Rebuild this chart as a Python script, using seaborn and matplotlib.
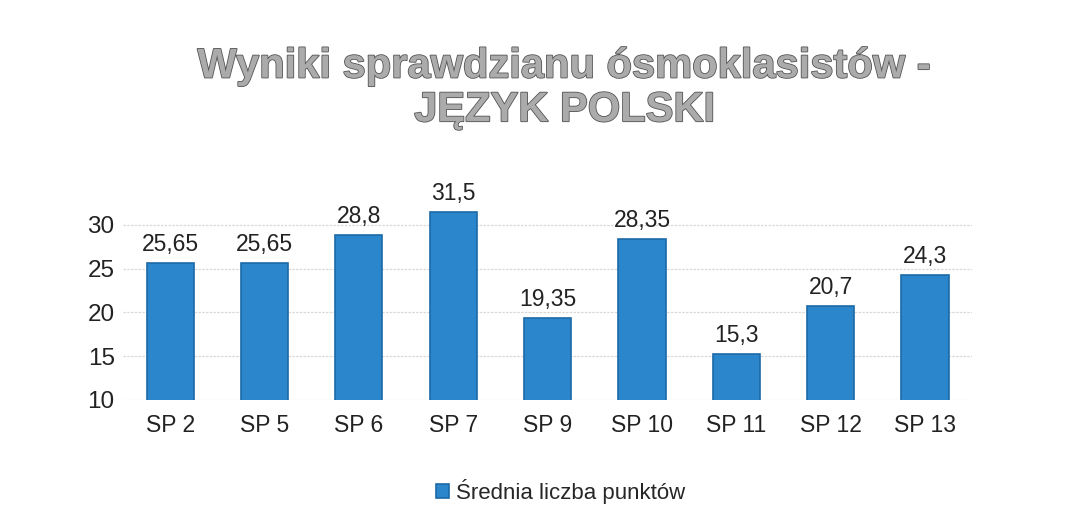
import matplotlib
matplotlib.use("Agg")
import matplotlib.pyplot as plt
import matplotlib.patheffects as pe
import seaborn as sns
import pandas as pd

categories = ["SP 2", "SP 5", "SP 6", "SP 7", "SP 9", "SP 10", "SP 11", "SP 12", "SP 13"]
values = [25.65, 25.65, 28.8, 31.5, 19.35, 28.35, 15.3, 20.7, 24.3]
value_labels = ["25,65", "25,65", "28,8", "31,5", "19,35", "28,35", "15,3", "20,7", "24,3"]
series_name = "Średnia liczba punktów"
yticks = [10, 15, 20, 25, 30]

sns.set_theme(style="white")
plt.rcParams['font.family'] = ['Liberation Sans', 'DejaVu Sans']

df = pd.DataFrame({"cat": categories, "val": values})

fig = plt.figure(figsize=(10.79, 5.2), dpi=100)
ax = fig.add_axes([0.114, 0.2308, 0.787, 0.421])

sns.barplot(data=df, x="cat", y="val", color="#2b86cc", width=0.5,
            edgecolor="#1d6aa6", linewidth=1.2, saturation=1,
            label=series_name, ax=ax)

ax.set_ylim(10, 35)
ax.set_xlim(-0.5, len(categories) - 0.5)
ax.set_yticks(yticks)
ax.set_yticklabels([str(t) for t in yticks], fontsize=17.5, color="#222222")
ax.tick_params(axis="x", labelsize=16.5, colors="#222222", pad=10, length=0)
ax.tick_params(axis="y", pad=6, length=0)
ax.set_xlabel("")
ax.set_ylabel("")
for t in yticks:
    ax.axhline(t, color="#d8d8d8", lw=0.9, ls=(0, (2, 1)), zorder=0)
for s in ax.spines.values():
    s.set_visible(False)

for i, (v, lab) in enumerate(zip(values, value_labels)):
    ax.text(i, v + 0.8, lab, ha="center", va="bottom", fontsize=16.5,
            color="#222222", clip_on=False)

leg = ax.legend(loc="upper center", bbox_to_anchor=(0.515, -0.27), frameon=False,
                fontsize=16, handlelength=0.6, handleheight=0.6, handletextpad=0.3)

fig.text(0.523, 0.83, "Wyniki sprawdzianu ósmoklasistów -\nJĘZYK POLSKI",
         ha="center", va="center", fontsize=30, fontweight="bold",
         color="#ababab", linespacing=1.12,
         path_effects=[pe.Stroke(linewidth=1.2, foreground="#555555"), pe.Normal()])

fig.savefig("out.png", dpi=100, facecolor="white")
